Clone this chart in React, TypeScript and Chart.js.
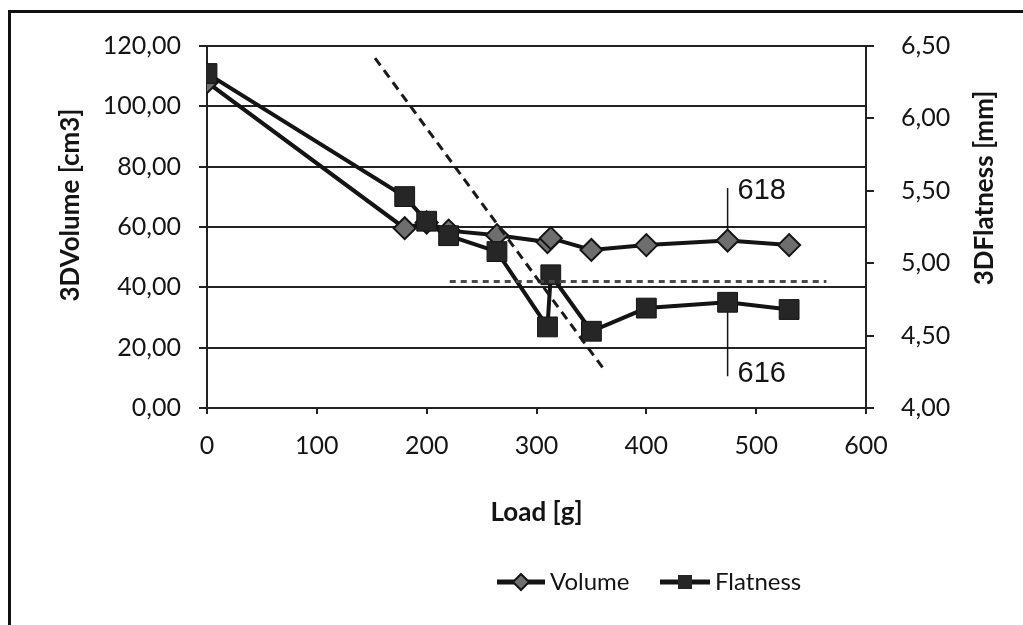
import React, { useEffect, useRef } from "react";
import { Chart, registerables } from "chart.js";

Chart.register(...registerables);

// ---- data ----
const volumeLoad = [0, 180, 200, 220, 264, 310, 313, 350, 400, 474, 530];
const volumeValues = [108, 59.6, 61.5, 58.8, 57.3, 55.0, 56.3, 52.4, 54.0, 55.5, 54.0];

const flatnessLoad = [0, 180, 200, 220, 264, 310, 313, 350, 400, 474, 530];
const flatnessValues = [6.31, 5.46, 5.29, 5.19, 5.08, 4.56, 4.92, 4.53, 4.69, 4.73, 4.68];

// dashed guide lines (volume axis units)
const slopeLoad = [153, 361];
const slopeVolume = [116, 13];
const levelLoad = [221, 564];
const levelVolume = [41.9, 41.9];

// reference marks 618 (volume axis) and 616 (flatness axis)
const mark618Load = [474, 474];
const mark618Volume = [55.5, 72.9];
const mark616Load = [474, 474];
const mark616Flatness = [4.73, 4.22];

const xTicks = [0, 100, 200, 300, 400, 500, 600];
const volumeTicks = [0, 20, 40, 60, 80, 100, 120];
const flatnessTicks = [4.0, 4.5, 5.0, 5.5, 6.0, 6.5];

const seriesNames = ["Volume", "Flatness"];
const axisTitles = { x: "Load [g]", y: "3DVolume [cm3]", y1: "3DFlatness [mm]" };
const markLabels = ["618", "616"];

const pts = (xs: number[], ys: number[]) => xs.map((x, i) => ({ x, y: ys[i] }));
const comma = (v: number) => v.toFixed(2).replace(".", ",");

const FONT = "Lato, 'Open Sans', sans-serif";
const INK = "#141414";

const decorPlugin = {
  id: "decor",
  beforeDraw(chart: any) {
    const { ctx, width, height } = chart;
    ctx.save();
    ctx.fillStyle = "#ffffff";
    ctx.fillRect(0, 0, width, height);
    ctx.strokeStyle = "#111";
    ctx.lineWidth = 3;
    ctx.beginPath();
    ctx.moveTo(9.5, height);
    ctx.lineTo(9.5, 11.5);
    ctx.lineTo(width, 11.5);
    ctx.stroke();
    ctx.restore();
  },
  afterDraw(chart: any) {
    const { ctx, scales } = chart;
    const xs = scales.x;
    const ys = scales.y;
    const y1 = scales.y1;
    ctx.save();
    ctx.fillStyle = INK;
    // axis titles
    ctx.font = `bold 26px ${FONT}`;
    ctx.textAlign = "center";
    ctx.textBaseline = "middle";
    ctx.fillText(axisTitles.x, (xs.left + xs.right) / 2, 513);
    ctx.save();
    ctx.translate(71, 205);
    ctx.rotate(-Math.PI / 2);
    ctx.fillText(axisTitles.y, 0, 0);
    ctx.restore();
    ctx.save();
    ctx.translate(985, 188);
    ctx.rotate(-Math.PI / 2);
    ctx.fillText(axisTitles.y1, 0, 0);
    ctx.restore();

    // mark labels
    ctx.font = "29px 'Liberation Sans', Arial, sans-serif";
    ctx.textAlign = "left";
    ctx.textBaseline = "alphabetic";
    const px618 = xs.getPixelForValue(mark618Load[1]);
    const py618 = ys.getPixelForValue(mark618Volume[1]);
    ctx.fillText(markLabels[0], px618 + 10, py618 + 11);
    const px616 = xs.getPixelForValue(mark616Load[1]);
    const py616 = y1.getPixelForValue(mark616Flatness[1]);
    ctx.fillText(markLabels[1], px616 + 10, py616 + 6);

    // legend
    const ly = 582;
    ctx.strokeStyle = INK;
    ctx.lineWidth = 5;
    ctx.beginPath();
    ctx.moveTo(497, ly);
    ctx.lineTo(545, ly);
    ctx.moveTo(660, ly);
    ctx.lineTo(710, ly);
    ctx.stroke();
    // diamond
    ctx.fillStyle = "#6e6e6e";
    ctx.lineWidth = 2;
    ctx.beginPath();
    ctx.moveTo(521, ly - 8);
    ctx.lineTo(529, ly);
    ctx.lineTo(521, ly + 8);
    ctx.lineTo(513, ly);
    ctx.closePath();
    ctx.fill();
    ctx.stroke();
    // square
    ctx.fillStyle = "#262626";
    ctx.fillRect(678, ly - 7, 14, 14);
    ctx.fillStyle = INK;
    ctx.font = `24px ${FONT}`;
    ctx.textBaseline = "middle";
    ctx.fillText(seriesNames[0], 550, ly);
    ctx.fillText(seriesNames[1], 715, ly);
    ctx.restore();
  },
};

export default function App() {
  const ref = useRef<HTMLCanvasElement | null>(null);

  useEffect(() => {
    if (!ref.current) return;
    const chart = new Chart(ref.current, {
      type: "scatter",
      data: {
        datasets: [
          {
            label: seriesNames[0],
            data: pts(volumeLoad, volumeValues),
            yAxisID: "y",
            showLine: true,
            borderColor: INK,
            borderWidth: 4,
            pointStyle: "rectRot",
            pointRadius: 11,
            pointBackgroundColor: "#6e6e6e",
            pointBorderColor: INK,
            pointBorderWidth: 2,
            order: 3,
          },
          {
            label: seriesNames[1],
            data: pts(flatnessLoad, flatnessValues),
            yAxisID: "y1",
            showLine: true,
            borderColor: INK,
            borderWidth: 4,
            pointStyle: "rect",
            pointRadius: 14,
            pointBackgroundColor: "#262626",
            pointBorderColor: INK,
            pointBorderWidth: 1,
            order: 2,
          },
          {
            label: "slope",
            data: pts(slopeLoad, slopeVolume),
            yAxisID: "y",
            showLine: true,
            borderColor: "#1a1a1a",
            borderWidth: 3,
            borderDash: [9, 6],
            pointRadius: 0,
            order: 0,
          },
          {
            label: "level",
            data: pts(levelLoad, levelVolume),
            yAxisID: "y",
            showLine: true,
            borderColor: "#4a4a4a",
            borderWidth: 3,
            borderDash: [6, 5],
            pointRadius: 0,
            order: 0,
          },
          {
            label: "618",
            data: pts(mark618Load, mark618Volume),
            yAxisID: "y",
            showLine: true,
            borderColor: INK,
            borderWidth: 1.5,
            pointRadius: 0,
            order: 4,
          },
          {
            label: "616",
            data: pts(mark616Load, mark616Flatness),
            yAxisID: "y1",
            showLine: true,
            borderColor: INK,
            borderWidth: 1.5,
            pointRadius: 0,
            order: 4,
          },
        ],
      },
      options: {
        animation: false,
        responsive: false,
        events: [],
        layout: { padding: { top: 46, left: 0, right: 0, bottom: 0 } },
        plugins: { legend: { display: false }, tooltip: { enabled: false } },
        scales: {
          x: {
            type: "linear",
            min: 0,
            max: 600,
            afterFit: (s: any) => {
              s.height = 625 - 408;
            },
            afterBuildTicks: (s: any) => {
              s.ticks = xTicks.map((v) => ({ value: v }));
            },
            ticks: {
              font: { family: FONT, size: 25 },
              color: INK,
              padding: 17,
              maxRotation: 0,
              callback: (v: any) => String(v),
            },
            grid: { drawOnChartArea: false, drawTicks: true, tickLength: 6, color: "#222", lineWidth: 2 },
            border: { display: true, color: "#222", width: 2 },
          },
          y: {
            type: "linear",
            position: "left",
            min: 0,
            max: 120,
            afterFit: (s: any) => {
              s.width = 207;
            },
            afterBuildTicks: (s: any) => {
              s.ticks = volumeTicks.map((v) => ({ value: v }));
            },
            ticks: {
              font: { family: FONT, size: 25 },
              color: INK,
              padding: 18,
              callback: (v: any) => comma(Number(v)),
            },
            grid: { color: "#222", lineWidth: 2, tickLength: 8 },
            border: { display: true, color: "#222", width: 2 },
          },
          y1: {
            type: "linear",
            position: "right",
            min: 4,
            max: 6.5,
            afterFit: (s: any) => {
              s.width = 1023 - 866;
            },
            afterBuildTicks: (s: any) => {
              s.ticks = flatnessTicks.map((v) => ({ value: v }));
            },
            ticks: {
              font: { family: FONT, size: 25 },
              color: INK,
              padding: 27,
              callback: (v: any) => comma(Number(v)),
            },
            grid: { drawOnChartArea: false, color: "#222", lineWidth: 2, tickLength: 8 },
            border: { display: true, color: "#222", width: 2 },
          },
        },
      },
      plugins: [decorPlugin],
    } as any);
    return () => chart.destroy();
  }, []);

  return (
    <div style={{ position: "fixed", left: 0, top: 0, width: 1023, height: 625, background: "#fff" }}>
      <canvas ref={ref} width={1023} height={625} style={{ display: "block" }} />
    </div>
  );
}
